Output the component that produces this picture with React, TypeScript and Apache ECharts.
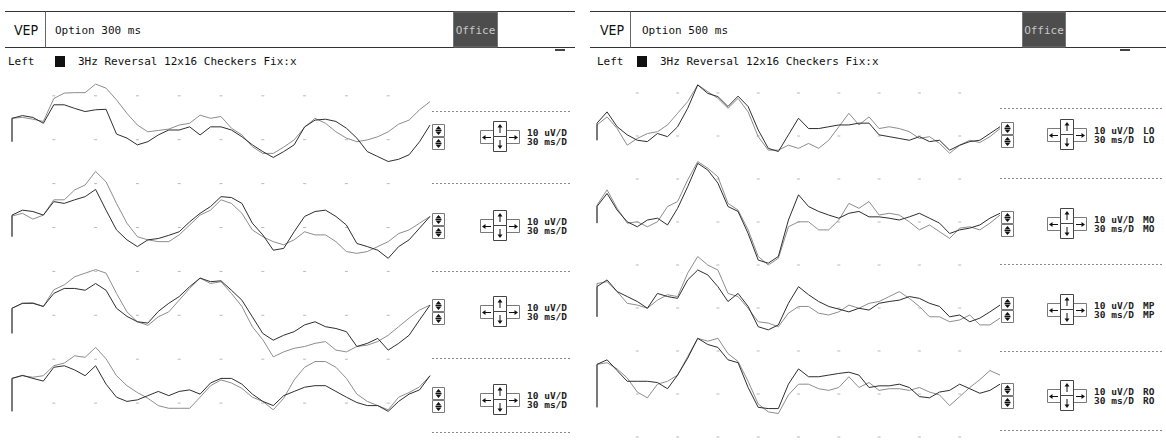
import React, { useEffect, useRef } from "react";
import * as echarts from "echarts";

const W = 1166;
const H = 447;

// ---------- data ----------
const N_SAMPLES = 41;
const LEFT_SWEEP_MS = 300;
const RIGHT_SWEEP_MS = 500;
const DIVISIONS = 10;
const DOT_COLS = [1, 2, 3, 4, 5, 6, 7, 8, 9];

const PANEL_TITLES = ["Option 300 ms", "Option 500 ms"];
const MODE_LABEL = "VEP";
const OFFICE_LABEL = "Office";
const EYE_LABEL = "Left";
const STIM_LABEL = "3Hz Reversal 12x16 Checkers Fix:x";
const GAIN_LABEL = "10 uV/D";
const TIME_LABEL = "30 ms/D";
const CHANNELS = ["LO", "MO", "MP", "RO"];

// onset artifact (uV) per trace
const LEFT_ONSET = [-5.2, -6.6, -8.7, -10.7];
const RIGHT_ONSET = [-5.9, -5.3, -7.0, -10.4];

// left panel (300 ms), uV
const L1_DARK = [0, 0.6, 0.2, -1.1, 3.0, 3.0, 2.2, 1.5, 1.9, 2.0, -3.5, -4.4, -5.9, -5.2, -3.7, -2.6, -2.6, -1.9, -3.7, -1.9, -1.9, -2.6, -4.1, -5.9, -7.4, -8.7, -7.4, -5.9, -1.9, -0.4, -0.2, -0.7, -2.2, -4.4, -7.4, -8.5, -9.6, -9.1, -8.1, -5.2, -1.5];
const L1_GRAY = [0, 0.2, -0.2, -0.7, 4.4, 5.6, 5.7, 5.7, 7.6, 6.7, 4.1, 1.1, -1.5, -3.0, -2.7, -2.4, -1.5, -1.1, 0.7, 0, 0.4, -2.2, -3.7, -6.3, -7.8, -7.8, -6.4, -4.8, -2.0, 0, -1.1, -3.0, -4.4, -5.2, -4.8, -4.1, -3.0, -1.3, -0.4, 1.9, 3.7];
const L2_DARK = [-1.8, -0.7, -1.0, -1.8, 1.2, 0.8, 1.6, 2.3, 3.9, -0.7, -5.1, -7.3, -8.8, -7.3, -7.0, -6.3, -5.5, -3.3, -1.4, 0.1, 2.3, 2.1, 0.8, -3.6, -6.2, -9.6, -9.2, -5.5, -2.1, -1.0, -0.7, -2.1, -4.0, -8.1, -8.8, -9.6, -11.4, -8.8, -7.3, -4.7, -2.1];
const L2_GRAY = [-2.0, -1.4, -2.7, -1.8, 1.6, 1.6, 3.8, 4.9, 7.9, 5.6, 0.8, -3.6, -6.6, -7.3, -7.7, -7.7, -6.2, -4.0, -1.8, -0.7, 1.6, 0.8, -1.4, -5.1, -6.6, -7.7, -8.4, -7.3, -5.5, -6.2, -6.2, -7.7, -9.9, -10.3, -9.9, -8.8, -7.7, -5.9, -5.1, -3.6, -2.1];
const L3_DARK = [-3.1, -2.0, -2.0, -2.7, 0.2, 1.3, 1.3, 0.9, 2.4, 0.9, -3.1, -4.9, -6.1, -6.4, -3.8, -2.0, -0.5, 1.7, 3.6, 2.8, 3.0, 0.9, -1.3, -5.0, -8.7, -10.2, -9.1, -8.3, -6.8, -6.1, -7.2, -7.6, -8.3, -11.6, -10.9, -9.8, -12.4, -10.9, -9.1, -5.7, -2.4];
const L3_GRAY = [-3.1, -2.0, -1.9, -2.7, 1.0, 2.1, 3.9, 4.7, 5.5, 4.7, 0.2, -3.9, -6.1, -6.9, -5.0, -3.9, -1.3, 1.3, 3.6, 2.4, 2.8, 0.2, -2.7, -7.2, -10.1, -13.9, -12.8, -12.0, -11.6, -10.9, -10.5, -12.4, -12.8, -11.6, -11.3, -10.5, -9.1, -7.2, -5.3, -3.5, -2.4];
const L4_DARK = [-2.1, -1.3, -2.1, -2.8, 0.8, 1.2, 0.1, -1.4, 1.2, -3.6, -7.0, -8.1, -7.7, -6.6, -5.5, -6.6, -5.5, -5.1, -6.2, -3.3, -2.1, -2.1, -3.6, -6.2, -8.1, -9.2, -6.6, -5.5, -4.4, -4.0, -4.0, -5.5, -7.0, -8.4, -9.2, -9.2, -10.7, -8.1, -6.2, -5.1, -1.4];
const L4_GRAY = [-2.1, -1.4, -1.8, -1.4, 1.2, 1.9, 3.8, 3.4, 6.0, 3.0, -1.4, -4.0, -5.8, -7.3, -9.2, -9.9, -9.9, -9.9, -7.0, -4.0, -2.5, -3.3, -4.7, -7.0, -8.1, -10.3, -7.3, -2.5, 0.8, 2.3, 2.3, 0.8, -2.1, -6.2, -8.1, -9.2, -10.3, -7.0, -5.8, -4.3, -1.4];

// right panel (500 ms), uV
const R1_DARK = [-2.1, 0.4, -2.9, -4.7, -5.9, -6.2, -4.4, -5.1, -2.9, 1.2, 6.4, 4.5, 3.8, 1.6, 3.9, 1.6, -3.6, -7.7, -8.4, -4.7, -1.0, -3.3, -3.3, -2.9, -2.5, -2.5, -2.1, -2.1, -4.7, -5.1, -5.5, -5.9, -5.1, -6.2, -5.9, -8.1, -7.0, -6.2, -5.9, -4.4, -2.9];
const R1_GRAY = [-2.5, -0.7, -3.3, -7.0, -5.5, -4.4, -4.0, -2.5, 0.1, 2.7, 6.4, 4.9, 3.4, 1.2, 3.4, 0.4, -5.1, -8.1, -8.1, -7.0, -7.7, -6.6, -7.7, -5.9, -2.9, 0.1, -2.5, -0.7, -3.3, -2.9, -3.3, -4.0, -5.5, -5.1, -6.6, -8.8, -7.0, -5.9, -6.4, -5.1, -3.3];
const R2_DARK = [-1.6, 1.3, -2.4, -5.0, -6.1, -4.6, -4.2, -5.7, -2.0, 2.8, 8.0, 6.5, 3.6, -1.6, -2.7, -7.6, -13.5, -14.2, -12.7, -4.6, 1.0, -1.6, -2.7, -3.5, -4.2, -3.1, -2.7, -3.9, -3.9, -4.2, -4.6, -3.9, -3.1, -4.2, -5.3, -7.6, -6.8, -6.4, -5.7, -4.2, -3.1];
const R2_GRAY = [-1.3, 2.1, -2.0, -5.3, -5.0, -6.1, -5.0, -1.6, -0.5, 4.3, 8.4, 6.9, 5.0, -0.9, -2.4, -6.8, -12.7, -14.6, -13.1, -6.1, -5.0, -5.0, -6.8, -6.8, -4.6, -0.9, -2.0, -0.5, -3.5, -3.1, -3.5, -5.0, -6.8, -5.7, -7.2, -8.7, -6.4, -6.1, -6.8, -5.3, -3.5];
const R3_DARK = [-0.3, 1.2, -1.4, -2.5, -3.6, -5.1, -1.8, -2.5, -2.9, 1.2, 3.4, 2.3, -0.3, -3.6, -1.8, -4.7, -9.2, -9.9, -8.8, -4.0, -0.3, -2.1, -3.6, -4.7, -5.3, -5.9, -5.1, -5.5, -4.0, -3.6, -3.3, -2.5, -2.9, -4.0, -4.7, -7.0, -6.6, -8.1, -7.3, -5.9, -4.4];
const R3_GRAY = [0.4, 0.8, -1.4, -4.0, -4.4, -5.1, -3.3, -2.1, -2.5, 2.7, 6.4, 4.5, 3.4, -1.8, -2.5, -5.1, -8.1, -8.4, -9.2, -6.2, -4.7, -4.7, -6.2, -6.6, -5.9, -4.4, -5.1, -4.0, -3.6, -2.5, -1.4, -2.9, -4.7, -7.0, -7.0, -8.1, -7.7, -6.6, -8.8, -8.8, -7.3];
const R4_DARK = [0, 1.1, -1.5, -4.1, -4.1, -4.1, -4.4, -5.9, -2.6, 1.5, 6.3, 4.8, 4.1, 1.1, 0.4, -5.6, -10.4, -10.7, -10.7, -4.8, -1.1, -3.0, -3.0, -2.6, -2.2, -1.9, -2.6, -5.6, -5.2, -5.2, -4.8, -5.6, -7.8, -8.1, -6.7, -6.3, -4.8, -5.9, -7.0, -6.3, -4.8];
const R4_GRAY = [0, 0.4, -1.1, -3.3, -6.7, -8.1, -4.8, -4.1, -2.6, 1.9, 6.3, 5.6, 6.3, 2.6, 0.7, -4.1, -9.6, -11.5, -11.9, -7.4, -4.8, -4.8, -5.9, -6.3, -5.6, -3.0, -5.6, -4.4, -6.3, -5.9, -5.9, -6.3, -5.6, -6.7, -7.4, -10.0, -7.8, -5.6, -3.7, -1.5, -2.6];

// ---------- layout / style ----------
const PX_PER_UV = 4.5;
const UV_RANGE = 20;
const DARK = "#2e2e2e";
const GRAY = "#8d8d8d";
const SANS = '"DejaVu Sans Condensed", "DejaVu Sans", sans-serif';
const MONO = '"DejaVu Sans Mono", "Liberation Mono", monospace';

const PANELS = [
  {
    sweep: LEFT_SWEEP_MS,
    title: PANEL_TITLES[0],
    dark: [L1_DARK, L2_DARK, L3_DARK, L4_DARK],
    gray: [L1_GRAY, L2_GRAY, L3_GRAY, L4_GRAY],
    onset: LEFT_ONSET,
    channels: null as string[] | null,
    lineX0: 5, lineX1: 575, vepX: 14, sepX: 45, optX: 55, officeX: 453, officeW: 44, markX: 555,
    leftX: 8, sqX: 55, descX: 78,
    traceX0: 12, traceX1: 430,
    bases: [118.3, 207, 294.3, 383.7],
    ctrlY: [137, 226, 312, 400],
    dashY: [111, 183, 271, 358, 432], dashX0: 432, dashX1: 572,
    stackX: 432, crossX: 480, textX: 527, chanX: 0,
    dotTop: 95.8, dotStep: 44.6, dotRows: [0, 1, 2, 3, 4, 5, 6, 7], dotRowMax: 8,
  },
  {
    sweep: RIGHT_SWEEP_MS,
    title: PANEL_TITLES[1],
    dark: [R1_DARK, R2_DARK, R3_DARK, R4_DARK],
    gray: [R1_GRAY, R2_GRAY, R3_GRAY, R4_GRAY],
    onset: RIGHT_ONSET,
    channels: CHANNELS,
    lineX0: 590, lineX1: 1166, vepX: 600, sepX: 630, optX: 642, officeX: 1022, officeW: 43, markX: 1120,
    leftX: 597, sqX: 637, descX: 660,
    traceX0: 597, traceX1: 1000,
    bases: [113.7, 199.3, 285.3, 371.7],
    ctrlY: [135, 224, 310, 396],
    dashY: [108, 178, 264, 351, 430], dashX0: 1000, dashX1: 1163,
    stackX: 1001, crossX: 1047, textX: 1094, chanX: 1143,
    dotTop: 93, dotStep: 43, dotRows: [0, 1, 2, 3, 4, 5, 6, 7, 8], dotRowMax: 8,
  },
];

function hline(x1: number, x2: number, y: number, stroke: string, dash?: number[]) {
  return { type: "line", silent: true, shape: { x1, y1: y, x2, y2: y }, style: { stroke, lineWidth: 1, lineDash: dash } };
}
function vline(x: number, y1: number, y2: number, stroke: string) {
  return { type: "line", silent: true, shape: { x1: x, y1, x2: x, y2 }, style: { stroke, lineWidth: 1 } };
}
function txt(text: string, x: number, y: number, font: string, fill = "#111", align = "left") {
  return { type: "text", silent: true, style: { text, x, y, font, fill, textAlign: align, textVerticalAlign: "middle", align, verticalAlign: "middle" } };
}
function box(x: number, y: number, w: number, h: number, stroke = "#7a7a7a", fill = "#fff") {
  return { type: "rect", silent: true, shape: { x, y, width: w, height: h }, style: { fill, stroke, lineWidth: 1 } };
}
function tri(points: number[][]) {
  return { type: "polygon", silent: true, shape: { points }, style: { fill: "#111" } };
}
// small arrow (shaft + head) pointing in direction dir
function arrow(cx: number, cy: number, dir: "u" | "d" | "l" | "r") {
  const L = 4;
  const els: any[] = [];
  if (dir === "u" || dir === "d") {
    const s = dir === "u" ? -1 : 1;
    els.push(vline(cx, cy - s * L, cy + s * (L - 2), "#111"));
    els.push(tri([[cx - 2.5, cy + s * (L - 2.5)], [cx + 2.5, cy + s * (L - 2.5)], [cx, cy + s * (L + 1)]]));
  } else {
    const s = dir === "l" ? -1 : 1;
    els.push(hline(cx - s * L, cx + s * (L - 2), cy, "#111"));
    els.push(tri([[cx + s * (L - 2.5), cy - 2.5], [cx + s * (L - 2.5), cy + 2.5], [cx + s * (L + 1), cy]]));
  }
  return els;
}

function controls(p: any, i: number) {
  const els: any[] = [];
  const cy = p.ctrlY[i];
  // stacked up/down icon
  const sx = p.stackX;
  [cy - 13, cy].forEach((top) => {
    els.push(box(sx + 0.5, top + 0.5, 12, 12));
    const cx = sx + 6.5;
    els.push(tri([[cx - 3, top + 5.5], [cx + 3, top + 5.5], [cx, top + 2]]));
    els.push(tri([[cx - 3, top + 7.5], [cx + 3, top + 7.5], [cx, top + 11]]));
    els.push(hline(cx - 3, cx + 3, top + 6.5, "#111"));
  });
  // cross of arrows
  const x0 = p.crossX;
  els.push(box(x0 + 0.5, cy - 6.5, 13, 13));
  els.push(box(x0 + 26.5, cy - 6.5, 13, 13));
  els.push(box(x0 + 13.5, cy - 15.5, 13, 15, "#444"));
  els.push(box(x0 + 13.5, cy - 0.5, 13, 15, "#444"));
  els.push(...arrow(x0 + 7, cy + 0.5, "l"));
  els.push(...arrow(x0 + 33, cy + 0.5, "r"));
  els.push(...arrow(x0 + 20, cy - 8, "u"));
  els.push(...arrow(x0 + 20, cy + 7, "d"));
  els.push(txt(GAIN_LABEL, p.textX, cy - 4.5, `bold 9.5px ${MONO}`, "#222"));
  els.push(txt(TIME_LABEL, p.textX, cy + 4.5, `bold 9.5px ${MONO}`, "#222"));
  if (p.channels) {
    els.push(txt(p.channels[i], p.chanX, cy - 4.5, `bold 9.5px ${MONO}`, "#222"));
    els.push(txt(p.channels[i], p.chanX, cy + 4.5, `bold 9.5px ${MONO}`, "#222"));
  }
  return els;
}

function buildOption() {
  const grid: any[] = [];
  const xAxis: any[] = [];
  const yAxis: any[] = [];
  const series: any[] = [];
  const graphic: any[] = [];

  PANELS.forEach((p) => {
    const step = p.sweep / (N_SAMPLES - 1);
    // dot grid
    const gd = grid.length;
    grid.push({ left: p.traceX0, width: p.traceX1 - p.traceX0, top: p.dotTop, height: p.dotStep * p.dotRowMax });
    xAxis.push({ gridIndex: gd, type: "value", min: 0, max: DIVISIONS, show: false });
    yAxis.push({ gridIndex: gd, type: "value", min: 0, max: p.dotRowMax, inverse: true, show: false });
    const dots: number[][] = [];
    DOT_COLS.forEach((c) => p.dotRows.forEach((r) => dots.push([c, r])));
    series.push({
      type: "scatter", xAxisIndex: gd, yAxisIndex: gd, data: dots, symbol: "rect", symbolSize: [3, 1],
      itemStyle: { color: "#a8a8a8" }, silent: true,
    });

    for (let i = 0; i < 4; i++) {
      const gi = grid.length;
      grid.push({
        left: p.traceX0, width: p.traceX1 - p.traceX0,
        top: p.bases[i] - UV_RANGE * PX_PER_UV, height: 2 * UV_RANGE * PX_PER_UV,
      });
      xAxis.push({ gridIndex: gi, type: "value", min: 0, max: p.sweep, show: false });
      yAxis.push({ gridIndex: gi, type: "value", min: -UV_RANGE, max: UV_RANGE, show: false });
      const mk = (vals: number[]) => [[0, p.onset[i]], ...vals.map((v, k) => [k * step, v])];
      series.push({
        type: "line", xAxisIndex: gi, yAxisIndex: gi, data: mk(p.gray[i]), symbol: "none", silent: true,
        lineStyle: { color: GRAY, width: 1 }, z: 3,
      });
      series.push({
        type: "line", xAxisIndex: gi, yAxisIndex: gi, data: mk(p.dark[i]), symbol: "none", silent: true,
        lineStyle: { color: DARK, width: 1 }, z: 4,
      });
      graphic.push(...controls(p, i));
    }

    // header
    graphic.push(hline(p.lineX0, p.lineX1, 11.5, "#333"));
    graphic.push(hline(p.lineX0, p.lineX1, 47.5, "#333"));
    graphic.push(vline(p.sepX + 0.5, 11.5, 47.5, "#666"));
    graphic.push(txt(MODE_LABEL, p.vepX, 29.5, `14px ${SANS}`, "#111"));
    graphic.push(txt(p.title, p.optX, 30, `11px ${MONO}`, "#111"));
    graphic.push(box(p.officeX + 0.5, 12, p.officeW, 35, "#777", "#4d4d4d"));
    graphic.push(txt(OFFICE_LABEL, p.officeX + p.officeW / 2 + 0.5, 30, `11px ${MONO}`, "#c8c8c8", "center"));
    graphic.push({ type: "rect", silent: true, shape: { x: p.markX, y: 49, width: 10, height: 2 }, style: { fill: "#444" } });
    graphic.push(txt(EYE_LABEL, p.leftX, 61.5, `11px ${MONO}`, "#111"));
    graphic.push({ type: "rect", silent: true, shape: { x: p.sqX, y: 56, width: 10, height: 11 }, style: { fill: "#111" } });
    graphic.push(txt(STIM_LABEL, p.descX, 61, `11px ${MONO}`, "#111"));
    // dashed separators
    p.dashY.forEach((y) => graphic.push(hline(p.dashX0, p.dashX1, y + 0.5, "#8a8a8a", [2, 2])));
  });

  return {
    animation: false,
    backgroundColor: "#ffffff",
    grid,
    xAxis,
    yAxis,
    series,
    graphic: { elements: graphic },
  };
}

export default function App() {
  const ref = useRef<HTMLDivElement>(null);
  useEffect(() => {
    if (!ref.current) return;
    const chart = echarts.init(ref.current, null, { renderer: "svg" });
    chart.setOption(buildOption() as any);
    return () => chart.dispose();
  }, []);
  return (
    <div
      ref={ref}
      style={{ position: "absolute", left: 0, top: 0, width: W, height: H, background: "#fff" }}
    />
  );
}
